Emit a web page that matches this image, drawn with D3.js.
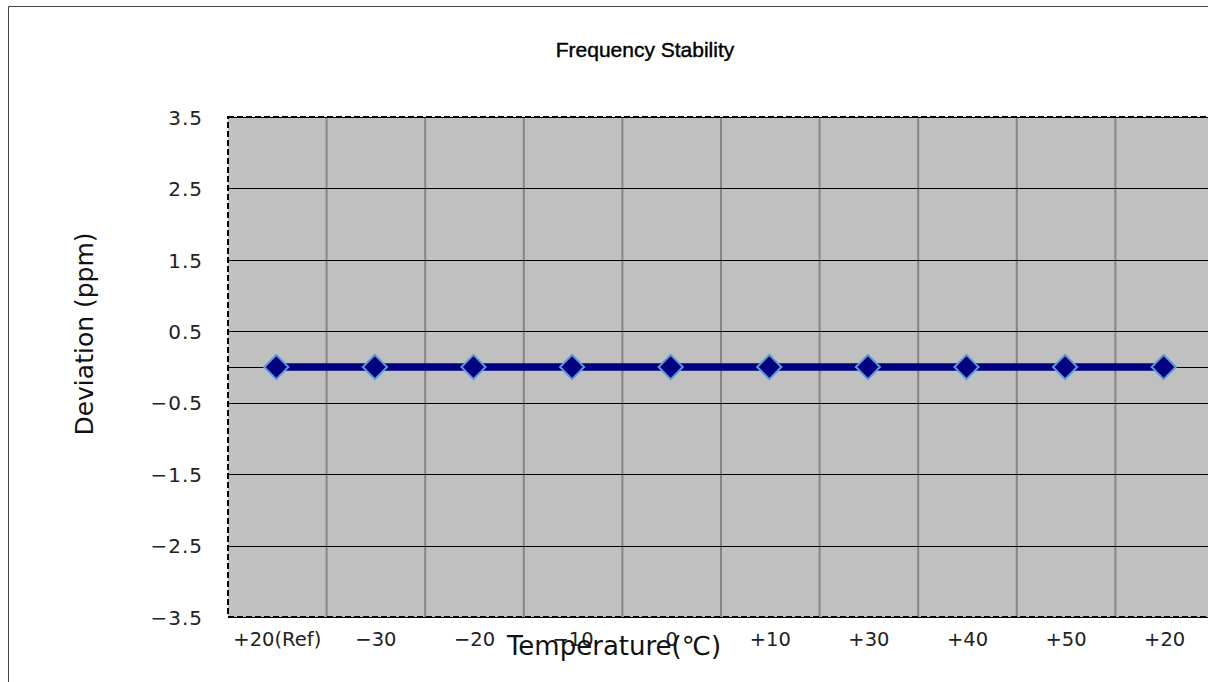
<!DOCTYPE html>
<html><head><meta charset="utf-8">
<script src="https://cdn.jsdelivr.net/npm/d3@7"></script>
<style>body{margin:0;background:#fff}svg{display:block}</style>
</head><body><svg id="c" width="1208" height="682"></svg>
<script>
const categories = ["+20(Ref)", "\u221230", "\u221220", "\u221210", "0", "+10", "+30", "+40", "+50", "+20"];
const deviation = [0, 0, 0, 0, 0, 0, 0, 0, 0, 0];
const yTicks = [-3.5, -2.5, -1.5, -0.5, 0.5, 1.5, 2.5, 3.5];
const yTickLabels = ["\u22123.5", "\u22122.5", "\u22121.5", "\u22120.5", "0.5", "1.5", "2.5", "3.5"];
const title = "Frequency Stability";
const xTitle = "Temperature(\u2103)";
const yTitle = "Deviation (ppm)";

const svg = d3.select("#c");
const L = 228, T = 117, B = 617, bw = 98.6;
const R = L + bw * categories.length;
const font = "'DejaVu Sans', sans-serif";
const tfont = "'Liberation Sans', Arial, sans-serif";

// outer frame
svg.append("path").attr("d", "M8.5,690 V6.5 H1220").attr("fill", "none").attr("stroke", "#444").attr("stroke-width", 1);

const x = d3.scaleBand().domain(d3.range(categories.length)).range([L, R]);
const y = d3.scaleLinear().domain([-3.5, 3.5]).range([B, T]);

svg.append("rect").attr("x", L).attr("y", T).attr("width", R - L).attr("height", B - T).attr("fill", "#c0c0c0");

// vertical gridlines
svg.append("g").selectAll("line").data(d3.range(1, categories.length)).join("line")
  .attr("x1", i => x(i)).attr("x2", i => x(i)).attr("y1", T).attr("y2", B)
  .attr("stroke", "#858585").attr("stroke-width", 2);

// horizontal gridlines
svg.append("g").selectAll("line").data(yTicks).join("line")
  .attr("x1", L).attr("x2", R).attr("y1", d => Math.round(y(d)) + 0.5).attr("y2", d => Math.round(y(d)) + 0.5)
  .attr("stroke", "#000").attr("stroke-width", 1);
// zero axis line
svg.append("line").attr("x1", L).attr("x2", R).attr("y1", Math.round(y(0)) + 0.5).attr("y2", Math.round(y(0)) + 0.5)
  .attr("stroke", "#000").attr("stroke-width", 1);

// dashed border
svg.append("rect").attr("x", L).attr("y", T).attr("width", R - L).attr("height", B - T)
  .attr("fill", "none").attr("stroke", "#000").attr("stroke-width", 2).attr("stroke-dasharray", "6,3");

// y axis labels
const yAxis = d3.axisLeft(y).tickValues(yTicks).tickSize(0).tickPadding(0)
  .tickFormat((d, i) => yTickLabels[i]);
const ya = svg.append("g").attr("transform", `translate(${L - 25},0)`).call(yAxis);
ya.select(".domain").remove();
ya.selectAll("text").attr("font-family", font).attr("font-size", 20).attr("letter-spacing", 1)
  .attr("fill", "#222").attr("dy", "0.36em");

// x axis labels
const xAxis = d3.axisBottom(x).tickSize(0).tickPadding(0).tickFormat(i => categories[i]);
const xa = svg.append("g").attr("transform", `translate(0,${B + 15})`).call(xAxis);
xa.select(".domain").remove();
xa.selectAll("text").attr("font-family", font).attr("font-size", 19.5).attr("fill", "#222");

// series line
const cx = i => x(i) + x.bandwidth() / 2 - 1;
svg.append("path").datum(deviation)
  .attr("d", d3.line().x((d, i) => cx(i)).y(d => y(d)))
  .attr("fill", "none").attr("stroke", "#000080").attr("stroke-width", 7.5);

// diamonds
svg.append("g").selectAll("path").data(deviation).join("path")
  .attr("d", d3.symbol(d3.symbolSquare, 290)())
  .attr("transform", (d, i) => `translate(${cx(i)},${y(d)}) rotate(45)`)
  .attr("fill", "#000080").attr("stroke", "#5b9bd5").attr("stroke-width", 2);

// titles
svg.append("text").attr("x", 645).attr("y", 57).attr("text-anchor", "middle")
  .attr("font-family", tfont).attr("font-size", 21).attr("fill", "#000")
  .attr("stroke", "#000").attr("stroke-width", 0.4).text(title);
svg.append("text").attr("x", 614).attr("y", 655).attr("text-anchor", "middle")
  .attr("font-family", font).attr("font-size", 26).attr("fill", "#111").text(xTitle);
svg.append("text").attr("transform", "translate(93,334) rotate(-90)").attr("text-anchor", "middle")
  .attr("font-family", font).attr("font-size", 25).attr("fill", "#111").text(yTitle);
</script></body></html>
